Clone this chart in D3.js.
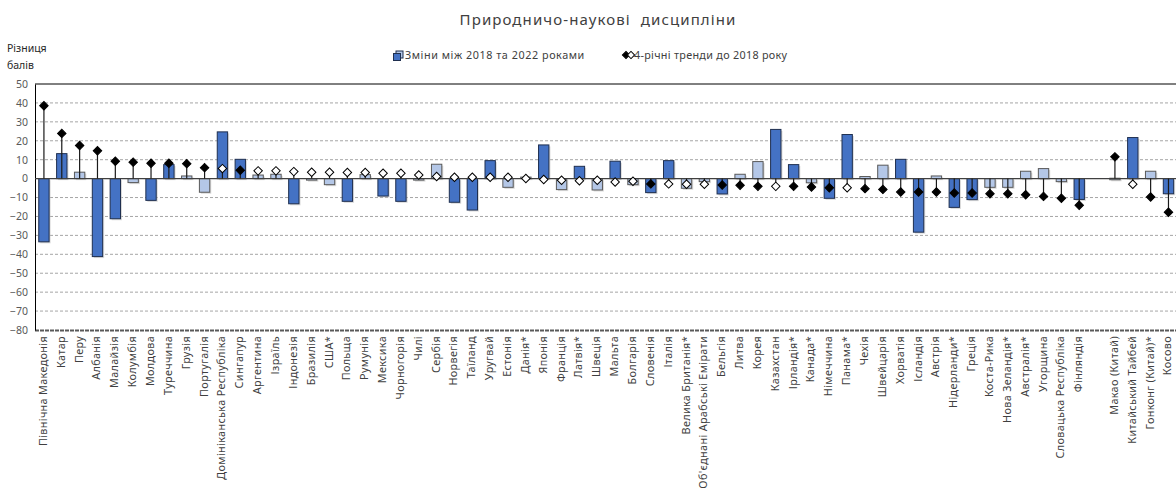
<!DOCTYPE html>
<html><head><meta charset="utf-8">
<script src="https://cdn.jsdelivr.net/npm/d3@7"></script>
<style>
body{margin:0;background:#fff;}
text{font-family:"Noto Sans","Open Sans",sans-serif;}
</style></head>
<body><svg id="c" width="1176" height="490"></svg>
<script>
const categories = ["Північна Македонія","Катар","Перу","Албанія","Малайзія","Колумбія","Молдова","Туреччина","Грузія","Португалія","Домініканська Республіка","Сингапур","Аргентина","Ізраїль","Індонезія","Бразилія","США*","Польща","Румунія","Мексика","Чорногорія","Чилі","Сербія","Норвегія","Таїланд","Уругвай","Естонія","Данія*","Японія","Франція","Латвія*","Швеція","Мальта","Болгарія","Словенія","Італія","Велика Британія*","Об'єднані Арабські Емірати","Бельгія","Литва","Корея","Казахстан","Ірландія*","Канада*","Німеччина","Панама*","Чехія","Швейцарія","Хорватія","Ісландія","Австрія","Нідерланди*","Греція","Коста-Рика","Нова Зеландія*","Австралія*","Угорщина","Словацька Республіка","Фінляндія","","Макао (Китай)","Китайський Тайбей","Гонконг (Китай)*","Косово"];
const changes = [-33.4,13.2,3.4,-41.2,-21.2,-2.1,-11.5,7.4,1.4,-7.2,24.7,10.2,1.9,2.3,-13.3,-0.5,-3.2,-12.0,2.1,-9.2,-12.0,-0.4,7.6,-12.5,-16.6,9.5,-4.6,0.8,17.8,-5.8,6.5,-6.0,9.2,-3.2,-7.4,9.5,-5.1,-1.6,-8.1,2.3,9.0,26.0,7.4,-2.2,-10.4,23.3,1.1,7.1,10.2,-28.3,1.4,-15.2,-11.1,-4.6,-4.6,3.9,5.3,-1.6,-11.0,null,0.2,21.7,3.9,-8.0];
const changeSignificant = [1,1,0,1,1,0,1,1,0,0,1,1,0,0,1,0,0,1,0,1,1,0,0,1,1,1,0,0,1,0,1,0,1,0,1,1,0,0,1,0,0,1,1,0,1,1,0,0,1,1,0,1,1,0,0,0,0,0,1,null,0,1,0,1];
const trends = [38.5,23.9,17.5,14.7,9.2,8.7,8.1,8.1,7.9,5.8,5.3,4.4,4.1,4.1,3.7,3.4,3.4,3.2,3.2,2.8,2.8,1.9,1.1,0.7,0.7,0.7,0.7,0.1,-0.5,-0.9,-1.1,-0.9,-1.8,-1.4,-2.8,-2.8,-3.0,-3.0,-3.4,-3.5,-4.1,-4.1,-4.1,-4.4,-4.8,-4.8,-5.3,-5.7,-7.1,-7.1,-7.1,-7.6,-7.6,-8.0,-8.0,-8.5,-9.4,-10.4,-14.1,null,11.5,-3.0,-9.7,-17.8];
const trendSignificant = [1,1,1,1,1,1,1,1,1,1,0,1,0,0,0,0,0,0,0,0,0,0,0,0,0,0,0,0,0,0,0,0,0,0,1,0,0,0,1,1,1,0,1,1,1,0,1,1,1,1,1,1,1,1,1,1,1,1,1,null,1,0,1,1];
const yTicks = [50,40,30,20,10,0,-10,-20,-30,-40,-50,-60,-70,-80];
const titleText = "Природничо-наукові  дисципліни";
const yTitle = ["Різниця","балів"];
const legendLabels = ["Зміни між 2018 та 2022 роками","4-річні тренди до 2018 року"];

const svg = d3.select("#c");
const m = {left:35, top:84, bottom:330};
const bandW = 17.85;
const x = d3.scaleBand().domain(d3.range(categories.length)).range([m.left, m.left + bandW*categories.length]).paddingInner(0.42).paddingOuter(0.21);
const y = d3.scaleLinear().domain([-80,50]).range([m.bottom, m.top]);

const data = categories.map((c,i)=>({i,c,ch:changes[i],cs:changeSignificant[i],tr:trends[i],ts:trendSignificant[i]}));

// title
svg.append("text").attr("x",598).attr("y",25).attr("text-anchor","middle")
  .attr("font-size",15).attr("fill","#404040").attr("letter-spacing",1.1).style("white-space","pre").text(titleText);
// y title
yTitle.forEach((t,k)=>svg.append("text").attr("x",7).attr("y",52+k*17).attr("font-size",10.5).attr("fill","#262626").text(t));

// grid
const grid = svg.append("g");
yTicks.filter(v=>v!==0 && v!==50 && v!==-80).forEach(v=>{
  grid.append("line").attr("x1",m.left).attr("x2",1176).attr("y1",y(v)).attr("y2",y(v))
    .attr("stroke","#a6a6a6").attr("stroke-width",1).attr("stroke-dasharray","3,2");
});
grid.append("line").attr("x1",m.left).attr("x2",1176).attr("y1",y(50)).attr("y2",y(50)).attr("stroke","#000").attr("stroke-width",1);
grid.append("line").attr("x1",m.left).attr("x2",1176).attr("y1",y(-80)+0.5).attr("y2",y(-80)+0.5).attr("stroke","#595959").attr("stroke-width",2).attr("stroke-dasharray","4,1");

// y axis
const yAxis = svg.append("g").attr("transform",`translate(${m.left},0)`)
  .call(d3.axisLeft(y).tickValues(yTicks).tickSize(0).tickPadding(7).tickFormat(d3.format("d")));
yAxis.select(".domain").attr("stroke","#000").attr("stroke-width",1);
yAxis.selectAll("text").attr("font-size",10.5).attr("fill","#595959").attr("font-family","Noto Sans");

// bars
const bars = svg.append("g");
data.filter(d=>d.ch!==null).forEach(d=>{
  const y0 = Math.min(y(0), y(d.ch)), h = Math.max(Math.abs(y(0)-y(d.ch)),1.5);
  bars.append("rect").attr("x",x(d.i)+1.5).attr("y",y0+1.5).attr("width",x.bandwidth()).attr("height",h)
    .attr("fill","#bfbfbf").attr("opacity",0.6);
  bars.append("rect").attr("x",x(d.i)).attr("y",y0).attr("width",x.bandwidth()).attr("height",h)
    .attr("fill", d.cs ? "#4472c4" : "#b4c7e7")
    .attr("stroke", d.cs ? "#1f2f4f" : "#595959").attr("stroke-width",1);
});

// zero line
svg.append("line").attr("x1",m.left).attr("x2",1176).attr("y1",y(0)).attr("y2",y(0)).attr("stroke","#404040").attr("stroke-width",1.2);

// stems and markers
const mk = svg.append("g");
data.filter(d=>d.tr!==null).forEach(d=>{
  const cx = x(d.i)+x.bandwidth()/2;
  mk.append("line").attr("x1",cx).attr("x2",cx).attr("y1",y(0)).attr("y2",y(d.tr)).attr("stroke","#1a1a1a").attr("stroke-width",1.2);
});
data.filter(d=>d.tr!==null).forEach(d=>{
  const cx = x(d.i)+x.bandwidth()/2;
  mk.append("path").attr("d",d3.symbol().type(d3.symbolSquare).size(36)())
    .attr("transform",`translate(${cx},${y(d.tr)}) rotate(45)`)
    .attr("fill", d.ts ? "#000" : "#fff").attr("stroke","#000").attr("stroke-width",1);
});

// x labels
const xl = svg.append("g");
data.forEach(d=>{
  const cx = x(d.i)+x.bandwidth()/2;
  xl.append("text").attr("transform",`translate(${cx+3},${m.bottom+6}) rotate(-90)`)
    .attr("text-anchor","end").attr("font-size",10.8).attr("letter-spacing",0.35).attr("fill","#404040").text(d.c);
});

// legend
const lg = svg.append("g");
lg.append("rect").attr("x",396).attr("y",51).attr("width",7).attr("height",7).attr("fill","#b4c7e7").attr("stroke","#1f2f4f");
lg.append("rect").attr("x",393.5).attr("y",53.5).attr("width",7).attr("height",7).attr("fill","#4472c4").attr("stroke","#1f2f4f");
lg.append("text").attr("x",405).attr("y",59).attr("font-size",10.8).attr("letter-spacing",0.55).attr("fill","#404040").text(legendLabels[0]);
lg.append("path").attr("d",d3.symbol().type(d3.symbolSquare).size(26)()).attr("transform","translate(626,55) rotate(45)").attr("fill","#000").attr("stroke","#000");
lg.append("path").attr("d",d3.symbol().type(d3.symbolSquare).size(26)()).attr("transform","translate(631,55) rotate(45)").attr("fill","#fff").attr("stroke","#000");
lg.append("text").attr("x",634).attr("y",59).attr("font-size",10.8).attr("letter-spacing",0.3).attr("fill","#404040").text(legendLabels[1]);
</script></body></html>
